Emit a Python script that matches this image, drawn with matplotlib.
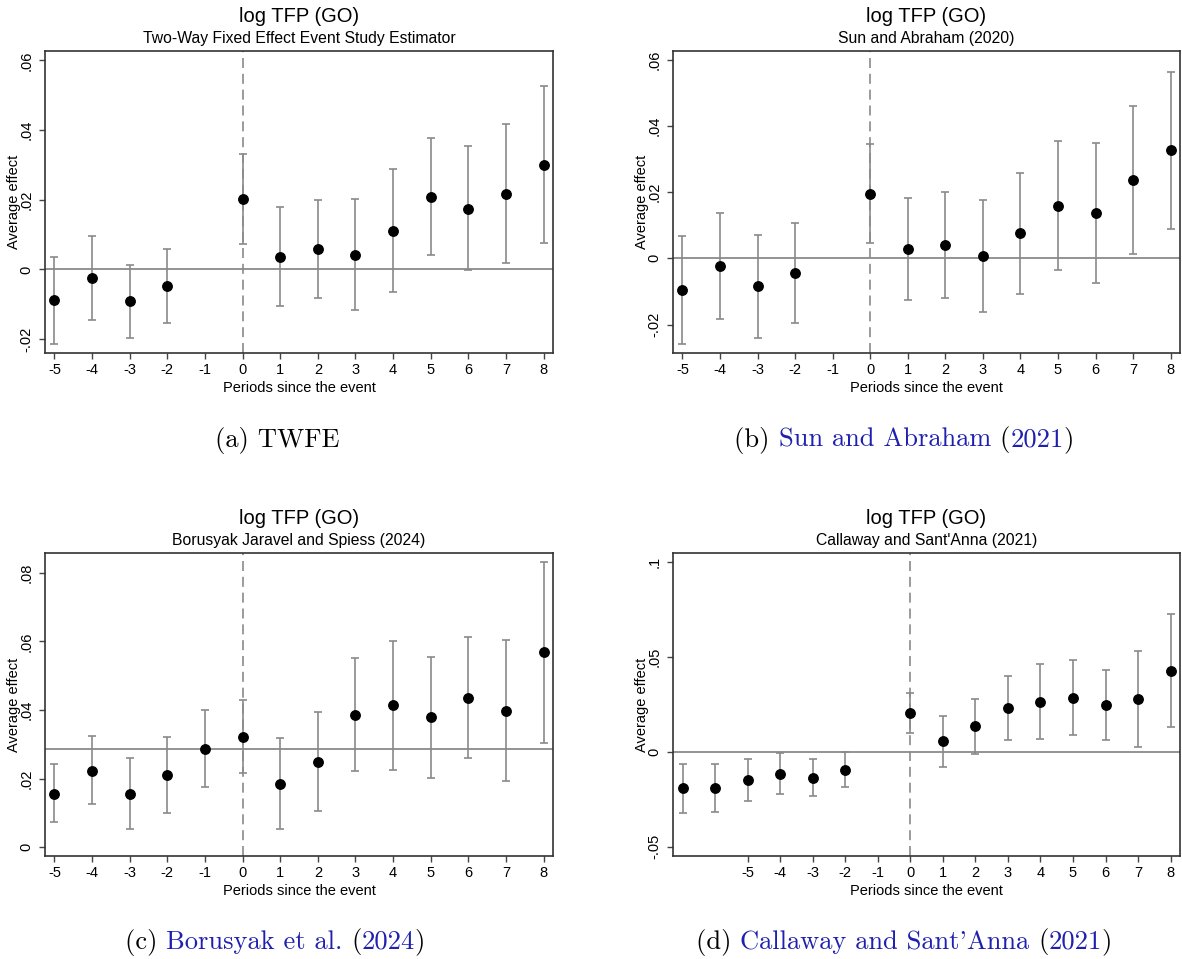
import matplotlib
matplotlib.use("Agg")
import matplotlib.pyplot as plt

# ---- data ----
periods = [-5, -4, -3, -2, 0, 1, 2, 3, 4, 5, 6, 7, 8]

twfe_est = [-0.0089, -0.0024, -0.0092, -0.0048, 0.0202, 0.0037, 0.0059, 0.0042, 0.0111, 0.0208, 0.0174, 0.0217, 0.0301]
twfe_lo = [-0.0214, -0.0144, -0.0197, -0.0153, 0.0074, -0.0104, -0.0081, -0.0116, -0.0065, 0.0040, -0.0002, 0.0017, 0.0075]
twfe_hi = [0.0036, 0.0096, 0.0012, 0.0060, 0.0332, 0.0180, 0.0200, 0.0202, 0.0288, 0.0376, 0.0353, 0.0418, 0.0527]

sa_est = [-0.0097, -0.0023, -0.0085, -0.0045, 0.0195, 0.0028, 0.0039, 0.0006, 0.0075, 0.0159, 0.0136, 0.0235, 0.0326]
sa_lo = [-0.0260, -0.0182, -0.0241, -0.0195, 0.0045, -0.0126, -0.0121, -0.0163, -0.0107, -0.0036, -0.0076, 0.0013, 0.0088]
sa_hi = [0.0068, 0.0138, 0.0069, 0.0107, 0.0345, 0.0182, 0.0200, 0.0176, 0.0257, 0.0355, 0.0347, 0.0459, 0.0564]

bjs_periods = [-5, -4, -3, -2, -1, 0, 1, 2, 3, 4, 5, 6, 7, 8]
bjs_est = [0.0156, 0.0223, 0.0155, 0.0210, 0.0285, 0.0322, 0.0185, 0.0248, 0.0386, 0.0414, 0.0379, 0.0436, 0.0398, 0.0568]
bjs_lo = [0.0072, 0.0125, 0.0052, 0.0100, 0.0174, 0.0217, 0.0052, 0.0104, 0.0222, 0.0226, 0.0203, 0.0261, 0.0194, 0.0304]
bjs_hi = [0.0241, 0.0323, 0.0259, 0.0320, 0.0399, 0.0428, 0.0318, 0.0393, 0.0552, 0.0602, 0.0556, 0.0613, 0.0603, 0.0831]
bjs_ref = 0.0286

cs_periods = [-7, -6, -5, -4, -3, -2, 0, 1, 2, 3, 4, 5, 6, 7, 8]
cs_est = [-0.0193, -0.0193, -0.0149, -0.0116, -0.0138, -0.0095, 0.0205, 0.0054, 0.0133, 0.0231, 0.0264, 0.0285, 0.0247, 0.0277, 0.0427]
cs_lo = [-0.0322, -0.0320, -0.0259, -0.0222, -0.0236, -0.0187, 0.0100, -0.0082, -0.0014, 0.0063, 0.0067, 0.0086, 0.0063, 0.0025, 0.0128]
cs_hi = [-0.0065, -0.0065, -0.0039, -0.0005, -0.0040, -0.0002, 0.0310, 0.0189, 0.0280, 0.0401, 0.0462, 0.0485, 0.0429, 0.0530, 0.0728]

xticks_main = list(range(-5, 9))

yt_a = [-0.02, 0, 0.02, 0.04, 0.06]
yl_a = ["-.02", "0", ".02", ".04", ".06"]
yt_c = [0, 0.02, 0.04, 0.06, 0.08]
yl_c = ["0", ".02", ".04", ".06", ".08"]
yt_d = [-0.05, 0, 0.05, 0.1]
yl_d = ["-.05", "0", ".05", ".1"]

main_title = "log TFP (GO)"
subtitles = ["Two-Way Fixed Effect Event Study Estimator", "Sun and Abraham (2020)",
             "Borusyak Jaravel and Spiess (2024)", "Callaway and Sant'Anna (2021)"]

# cmr10 draws the ascii quote as a right quote
cap_a = [("(a) TWFE", "k")]
cap_b = [("(b) ", "k"), ("Sun and Abraham", "b"), (" (", "k"), ("2021", "b"), (")", "k")]
cap_c = [("(c) ", "k"), ("Borusyak et al.", "b"), (" (", "k"), ("2024", "b"), (")", "k")]
cap_d = [("(d) ", "k"), ("Callaway and Sant'Anna", "b"), (" (", "k"), ("2021", "b"), (")", "k")]

W, H = 1182, 959
SANS = "Liberation Sans"
GRAY = "#8a8a8a"
BLUE = "#1f1fb0"
CAP = 19.1

fig = plt.figure(figsize=(W / 100, H / 100), dpi=100)


def make_ax(left, right, top, bottom):
    return fig.add_axes([left / W, 1 - bottom / H, (right - left) / W, (bottom - top) / H])


def panel(ax, x, est, lo, hi, ref, xlim, ylim, yt, yl, sub):
    ax.axhline(ref, color=GRAY, lw=1.3, zorder=1)
    ax.axvline(0, color=GRAY, lw=1.2, ls=(0, (6, 3.5)), zorder=1)
    err = [[e - l for e, l in zip(est, lo)], [h - e for e, h in zip(est, hi)]]
    ax.errorbar(x, est, yerr=err, fmt="none", ecolor=GRAY, elinewidth=1.2,
                capsize=3.2, capthick=1.2, zorder=2)
    ax.plot(x, est, "o", color="black", ms=6.8, zorder=3)
    ax.set_xlim(*xlim)
    ax.set_ylim(*ylim)
    ax.set_xticks(xticks_main)
    ax.set_xticklabels([str(v) for v in xticks_main], fontfamily=SANS, fontsize=10.5)
    ax.set_yticks(yt)
    ax.set_yticklabels(yl, fontfamily=SANS, fontsize=10.5, rotation=90, va="center")
    ax.tick_params(length=4.5, width=1.0, color="#444444", pad=3)
    ax.tick_params(axis="y", pad=4)
    for s in ax.spines.values():
        s.set_color("#333333")
        s.set_linewidth(1.2)
    ax.set_xlabel("Periods since the event", fontfamily=SANS, fontsize=10.5, labelpad=2.5)
    ax.set_ylabel("Average effect", fontfamily=SANS, fontsize=10.5)
    ax.yaxis.set_label_coords(-24 / 508, 0.5)
    ax.text(0.5, 1 + 35 / 303, main_title, transform=ax.transAxes, ha="center", va="center",
            fontfamily=SANS, fontsize=14.5)
    ax.text(0.5, 1 + 13 / 303, sub, transform=ax.transAxes, ha="center", va="center",
            fontfamily=SANS, fontsize=11.3)


ax_a = make_ax(45, 553, 51, 353)
ax_b = make_ax(673, 1180, 51, 353)
ax_c = make_ax(45, 553, 553, 856)
ax_d = make_ax(673, 1180, 553, 856)

panel(ax_a, periods, twfe_est, twfe_lo, twfe_hi, 0, (-5.25, 8.25), (-0.024, 0.0627), yt_a, yl_a, subtitles[0])
panel(ax_b, periods, sa_est, sa_lo, sa_hi, 0, (-5.25, 8.25), (-0.0286, 0.0626), yt_a, yl_a, subtitles[1])
panel(ax_c, bjs_periods, bjs_est, bjs_lo, bjs_hi, bjs_ref, (-5.25, 8.25), (-0.0026, 0.0858), yt_c, yl_c, subtitles[2])
panel(ax_d, cs_periods, cs_est, cs_lo, cs_hi, 0, (-7.3, 8.29), (-0.055, 0.1047), yt_d, yl_d, subtitles[3])

renderer = fig.canvas.get_renderer()


def text_w(s):
    t = fig.text(0, 0, s + "|", fontfamily="cmr10", fontsize=CAP)
    w = t.get_window_extent(renderer).width
    t.remove()
    return w


def caption(cx, cy, pieces):
    bar = text_w("")
    full = "".join(p for p, _ in pieces)
    x0 = cx - (text_w(full) - bar) / 2
    prefix = ""
    for s, c in pieces:
        body = s.lstrip(" ")
        lead = prefix + s[:len(s) - len(body)]
        off = text_w(lead) - bar if lead else 0
        fig.text((x0 + off) / W, 1 - cy / H, body, color="black" if c == "k" else BLUE,
                 fontfamily="cmr10", fontsize=CAP, ha="left", va="center")
        prefix += s


caption(277, 440, cap_a)
caption(904, 440, cap_b)
caption(275, 942, cap_c)
caption(904, 942, cap_d)

fig.savefig("out.png", dpi=100)
